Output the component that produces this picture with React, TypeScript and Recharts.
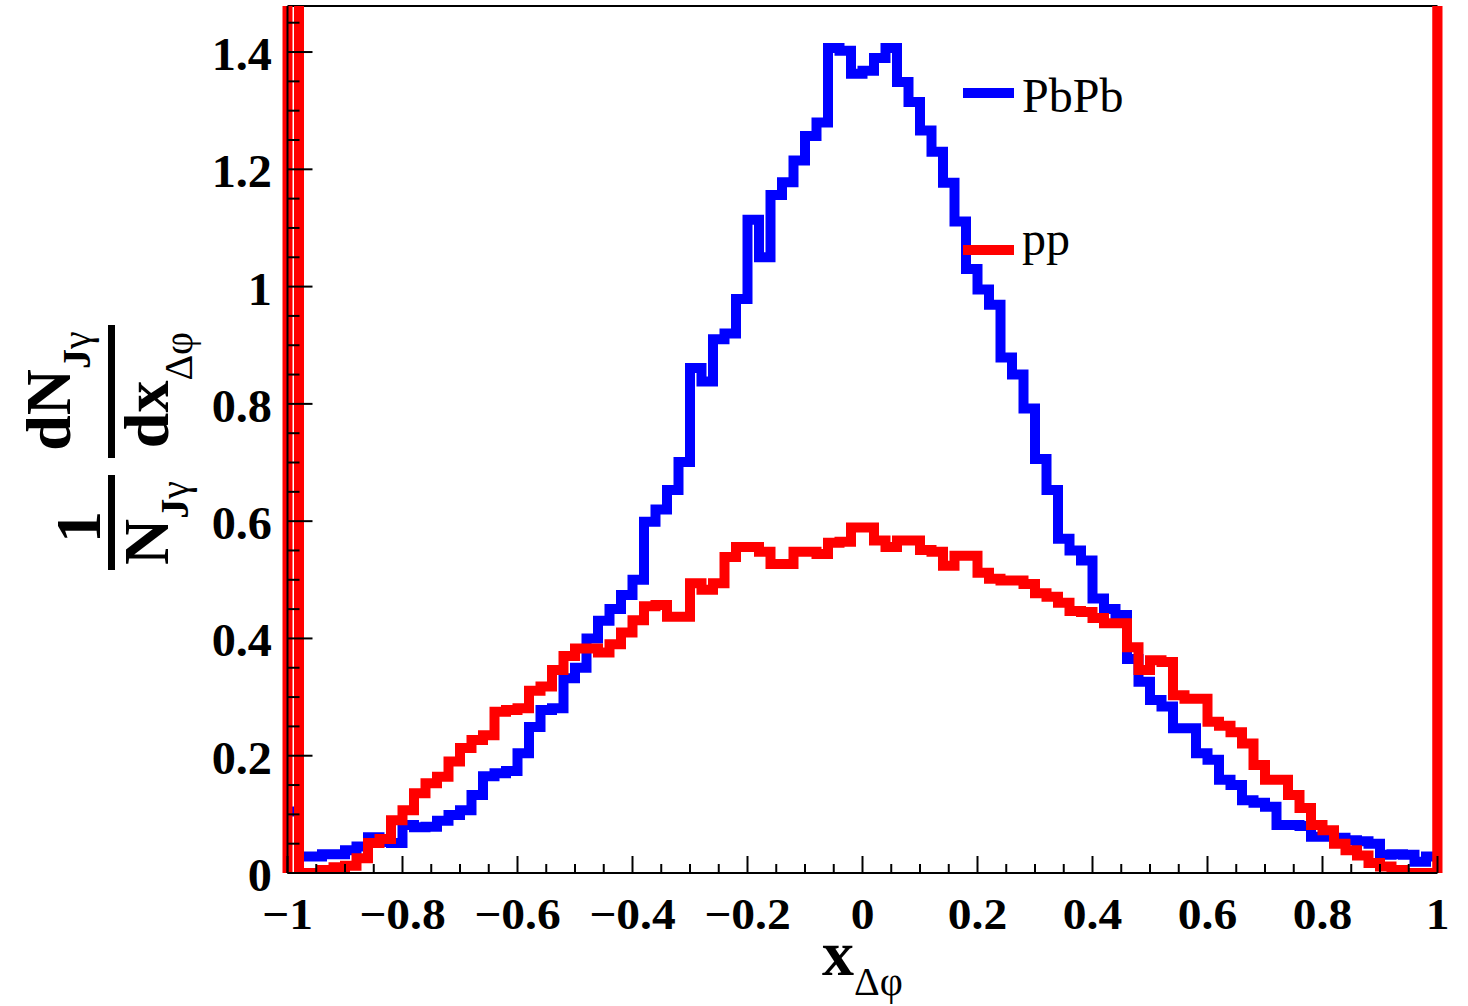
import React from 'react';
import { LineChart, Line, XAxis, YAxis, ReferenceLine, Legend } from 'recharts';

// Histogram binning along x_{Δφ}
const BIN_START = -1;
const BIN_WIDTH = 0.02;

// PbPb histogram, one value per 0.02-wide bin from -1 to 1
const pbpbBins = [
  0.105, 0.028, 0.028, 0.032, 0.032, 0.039, 0.045, 0.061, 0.053, 0.051,
  0.082, 0.078, 0.079, 0.089, 0.099, 0.107, 0.133, 0.165, 0.17, 0.174,
  0.204, 0.249, 0.278, 0.281, 0.332, 0.35, 0.4, 0.43, 0.45, 0.474,
  0.5, 0.599, 0.62, 0.653, 0.701, 0.861, 0.838, 0.91, 0.92, 0.979,
  1.114, 1.05, 1.156, 1.178, 1.215, 1.257, 1.28, 1.407, 1.402, 1.363,
  1.368, 1.39, 1.407, 1.349, 1.315, 1.266, 1.23, 1.177, 1.111, 1.03,
  0.995, 0.969, 0.879, 0.85, 0.792, 0.706, 0.653, 0.57, 0.55, 0.533,
  0.468, 0.45, 0.44, 0.365, 0.326, 0.295, 0.284, 0.247, 0.247, 0.204,
  0.193, 0.159, 0.15, 0.124, 0.12, 0.113, 0.082, 0.082, 0.08, 0.062,
  0.062, 0.06, 0.056, 0.054, 0.05, 0.031, 0.032, 0.031, 0.019, 0.028,
];

// pp histogram (first bin runs off the top of the frame)
const ppBins = [
  3, 0, 0, 0.005, 0.01, 0.0125, 0.025, 0.051, 0.058, 0.09,
  0.107, 0.136, 0.153, 0.164, 0.19, 0.213, 0.227, 0.235, 0.275, 0.278,
  0.281, 0.311, 0.318, 0.346, 0.37, 0.383, 0.383, 0.376, 0.39, 0.41,
  0.431, 0.455, 0.457, 0.437, 0.437, 0.494, 0.483, 0.494, 0.539, 0.556,
  0.556, 0.548, 0.527, 0.527, 0.548, 0.548, 0.544, 0.563, 0.565, 0.589,
  0.589, 0.567, 0.556, 0.567, 0.567, 0.551, 0.548, 0.524, 0.541, 0.541,
  0.512, 0.502, 0.499, 0.499, 0.493, 0.477, 0.471, 0.461, 0.447, 0.445,
  0.435, 0.426, 0.426, 0.385, 0.346, 0.363, 0.36, 0.303, 0.297, 0.297,
  0.258, 0.251, 0.24, 0.221, 0.184, 0.159, 0.159, 0.133, 0.111, 0.082,
  0.073, 0.05, 0.039, 0.03, 0.017, 0.011, 0.005, 0, 0, 0,
];
// value at the closing edge x = 1 (runs off the top of the frame)
const ppClosingEdge = 3;

const Y_MAX = 1.4785;

const xMajorTicks = [-1, -0.8, -0.6, -0.4, -0.2, 0, 0.2, 0.4, 0.6, 0.8, 1];
const xTickLabels = ['\u22121', '\u22120.8', '\u22120.6', '\u22120.4', '\u22120.2', '0', '0.2', '0.4', '0.6', '0.8', '1'];
const yMajorTicks = [0, 0.2, 0.4, 0.6, 0.8, 1, 1.2, 1.4];
const yTickLabels = ['0', '0.2', '0.4', '0.6', '0.8', '1', '1.2', '1.4'];
const MINOR_STEP = 0.05;

const xTicks = Array.from({ length: 41 }, (_, i) => Math.round((-1 + i * MINOR_STEP) * 100) / 100);
const yTicks = Array.from({ length: 30 }, (_, i) => Math.round(i * MINOR_STEP * 100) / 100);

const data = Array.from({ length: pbpbBins.length + 1 }, (_, k) => ({
  x: Math.round((BIN_START + k * BIN_WIDTH) * 100) / 100,
  pbpb: pbpbBins[Math.min(k, pbpbBins.length - 1)],
  pp: k < ppBins.length ? ppBins[k] : ppClosingEdge,
}));

const SERIF = '"Liberation Serif", "Times New Roman", serif';
const BLUE = '#0000ff';
const RED = '#ff0000';

const findMajor = (v: number, list: number[]) => list.findIndex((t) => Math.abs(t - v) < 1e-6);

const renderXTick = (props: any) => {
  const { x, y, payload } = props;
  const idx = findMajor(payload.value, xMajorTicks);
  const major = idx >= 0;
  return (
    <g>
      <line x1={x} y1={y} x2={x} y2={y - (major ? 17 : 9)} stroke="#000" strokeWidth={2} />
      {major && (
        <text
          transform={`translate(${x},${y + 56}) scale(1.08,1)`}
          textAnchor="middle"
          fontFamily={SERIF}
          fontWeight="bold"
          fontSize={44}
          fill="#000"
        >
          {xTickLabels[idx]}
        </text>
      )}
    </g>
  );
};

const renderYTick = (props: any) => {
  const { x, y, payload } = props;
  const idx = findMajor(payload.value, yMajorTicks);
  const major = idx >= 0;
  return (
    <g>
      <line x1={x} y1={y} x2={x + (major ? 25 : 12)} y2={y} stroke="#000" strokeWidth={2} />
      {major && (
        <text
          transform={`translate(${x - 15.5},${y + 18}) scale(1.05,1)`}
          textAnchor="end"
          fontFamily={SERIF}
          fontWeight="bold"
          fontSize={46}
          fill="#000"
        >
          {yTickLabels[idx]}
        </text>
      )}
    </g>
  );
};

const renderYTitle = () => (
  <g fontFamily={SERIF} fill="#000">
    <g transform="rotate(-90)">
      <text x={-527} y={100} textAnchor="middle" fontSize={64} fontWeight="bold">1</text>
      <text x={-523} y={168} textAnchor="middle" fontSize={64} fontWeight="bold">
        N<tspan fontSize={40} dy={20}>J</tspan><tspan fontSize={40} fontWeight="normal">γ</tspan>
      </text>
      <text x={-391} y={70} textAnchor="middle" fontSize={64} fontWeight="bold">
        dN<tspan fontSize={40} dy={20}>J</tspan><tspan fontSize={40} fontWeight="normal">γ</tspan>
      </text>
      <text x={-390} y={168} textAnchor="middle" fontSize={64} fontWeight="bold">
        dx<tspan fontSize={40} fontWeight="normal" dy={24}>Δφ</tspan>
      </text>
    </g>
    <line x1={111.5} x2={111.5} y1={475} y2={570} stroke="#000" strokeWidth={7} />
    <line x1={111.5} x2={111.5} y1={325} y2={458} stroke="#000" strokeWidth={7} />
  </g>
);

const renderXTitle = () => (
  <text x={822} y={975} fontFamily={SERIF} fontSize={64} fontWeight="bold" fill="#000">
    x<tspan fontSize={40} fontWeight="normal" dy={20}>Δφ</tspan>
  </text>
);

const legendLayout: Record<string, { lineY: number; textY: number }> = {
  PbPb: { lineY: 33, textY: 52 },
  pp: { lineY: 190, textY: 195 },
};

const renderLegend = (props: any) => {
  const payload = props.payload || [];
  return (
    <svg width={220} height={230} style={{ position: 'absolute', left: 0, top: 0, overflow: 'visible' }}>
      {payload.map((entry: any, i: number) => {
        const pos = legendLayout[entry.value] || { lineY: 33 + i * 157, textY: 52 + i * 143 };
        return (
          <g key={`leg-${i}`}>
            <line x1={13} x2={64} y1={pos.lineY} y2={pos.lineY} stroke={entry.color} strokeWidth={10} />
            <text x={72} y={pos.textY} fontFamily={SERIF} fontSize={48} fill="#000">
              {entry.value}
            </text>
          </g>
        );
      })}
    </svg>
  );
};

export default function App() {
  return (
    <div style={{ position: 'absolute', left: 0, top: 0, width: 1468, height: 1006, background: '#fff' }}>
      <LineChart
        width={1468}
        height={1006}
        data={data}
        margin={{ top: 6, right: 30.5, bottom: 73, left: 207.5 }}
      >
        <XAxis
          dataKey="x"
          type="number"
          domain={[-1, 1]}
          ticks={xTicks}
          interval={0}
          tickSize={0}
          tickMargin={0}
          tickLine={false}
          tick={renderXTick}
          axisLine={{ stroke: '#000', strokeWidth: 2 }}
          height={60}
          allowDataOverflow
          label={renderXTitle}
        />
        <YAxis
          type="number"
          domain={[0, Y_MAX]}
          ticks={yTicks}
          interval={0}
          tickSize={0}
          tickMargin={0}
          tickLine={false}
          tick={renderYTick}
          axisLine={{ stroke: '#000', strokeWidth: 2 }}
          width={80}
          allowDataOverflow
          label={renderYTitle}
        />
        <ReferenceLine y={Y_MAX} stroke="#000" strokeWidth={2} />
        <Line
          name="PbPb"
          dataKey="pbpb"
          type="stepAfter"
          stroke={BLUE}
          strokeWidth={10}
          dot={false}
          activeDot={false}
          isAnimationActive={false}
        />
        <Line
          name="pp"
          dataKey="pp"
          type="stepAfter"
          stroke={RED}
          strokeWidth={10}
          dot={false}
          activeDot={false}
          isAnimationActive={false}
        />
        <ReferenceLine x={-1} stroke={RED} strokeWidth={10} />
        <ReferenceLine x={1} stroke={RED} strokeWidth={10} />
        <Legend
          content={renderLegend}
          wrapperStyle={{ left: 950, top: 60, width: 0, height: 0, overflow: 'visible' }}
        />
      </LineChart>
    </div>
  );
}
